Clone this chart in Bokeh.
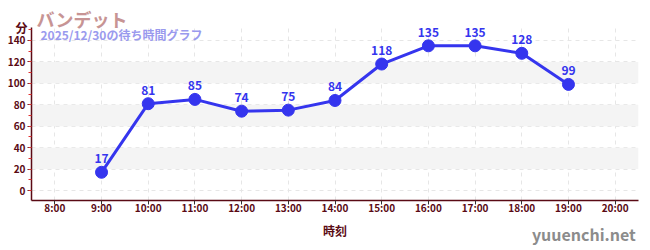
from bokeh.plotting import figure
from bokeh.models import (ColumnDataSource, Label, FixedTicker, Range1d, LabelSet, Grid,
                          Title, LinearAxis)
from bokeh.core.properties import value
from bokeh.embed import file_html
from bokeh.resources import INLINE

hours = [9, 10, 11, 12, 13, 14, 15, 16, 17, 18, 19]
waits = [17, 81, 85, 74, 75, 84, 118, 135, 135, 128, 99]
x_ticks = list(range(8, 21))
x_tick_labels = {h: f"{h}:00" for h in x_ticks}
y_ticks = list(range(0, 141, 20))
y_minor_ticks = list(range(-10, 151, 10))
band_ticks = list(range(20, 121, 20))
title = "バンデット"
subtitle = "2025/12/30の待ち時間グラフ"
unit_label = "分"
x_label = "時刻"
watermark = "yuuenchi.net"

FONT = "'Noto Sans CJK JP'"
AXIS_COLOR = "#5a0a14"
LINE_COLOR = "#3535ee"
WM_X = 19.33  # horizontal anchor of the watermark text (styling)

src = ColumnDataSource(dict(x=hours, y=waits, t=[str(v) for v in waits]))

p = figure(width=650, height=250, output_backend="svg", toolbar_location=None,
           x_range=Range1d(7.5, 20.5), y_range=Range1d(-9.33, 152.1),
           min_border_left=31, min_border_right=12, min_border_top=27, min_border_bottom=50)
p.outline_line_color = None
p.background_fill_color = "white"

p.title.text = title
p.title.align = "left"
p.title.offset = 5
p.title.standoff = -9.6
p.title.vertical_align = "middle"
p.title.text_font = FONT
p.title.text_font_size = "18px"
p.title.text_font_style = "bold"
p.title.text_color = "#c79494"

p.add_layout(Title(text=unit_label, align="left", offset=-16, standoff=-39, vertical_align="middle",
                   text_font=FONT, text_font_size="12px", text_font_style="bold",
                   text_color=AXIS_COLOR), "above")

xax = p.xaxis[0]
yax = p.yaxis[0]
xax.ticker = FixedTicker(ticks=x_ticks, minor_ticks=[])
xax.major_label_overrides = x_tick_labels
yax.ticker = FixedTicker(ticks=y_ticks, minor_ticks=y_minor_ticks)

for ax in (xax, yax):
    ax.axis_line_color = AXIS_COLOR
    ax.axis_line_width = 1.5
    ax.major_tick_line_color = "#333333"
    ax.major_tick_out = 4
    ax.major_tick_in = 0
    ax.major_label_text_color = AXIS_COLOR
    ax.major_label_text_font = FONT
    ax.major_label_text_font_style = "bold"
    ax.major_label_text_font_size = "10px"
xax.major_label_standoff = -5
yax.major_label_standoff = 2
yax.minor_tick_line_color = "#e03030"
yax.minor_tick_out = 3
yax.minor_tick_in = 0
xax.minor_tick_line_color = None

xax.axis_label = x_label
xax.axis_label_text_font = FONT
xax.axis_label_text_font_style = "bold"
xax.axis_label_text_font_size = "12px"
xax.axis_label_text_color = AXIS_COLOR
xax.axis_label_standoff = 4

wm_axis = LinearAxis(ticker=FixedTicker(ticks=[WM_X], minor_ticks=[]),
                     major_label_overrides={WM_X: watermark},
                     axis_line_color=None, major_tick_line_color=None,
                     minor_tick_line_color=None, major_tick_out=0, major_tick_in=0,
                     major_label_standoff=-20, major_label_text_font=FONT,
                     major_label_text_font_size="16px", major_label_text_font_style="bold",
                     major_label_text_color="#8c8c8c")
p.add_layout(wm_axis, "below")

p.xgrid.grid_line_color = "#e6e6e6"
p.xgrid.grid_line_dash = "4 4"
p.ygrid.grid_line_color = "#e6e6e6"
p.ygrid.grid_line_dash = "4 4"

band_grid = Grid(dimension=1, ticker=FixedTicker(ticks=band_ticks), grid_line_color=None,
                 band_fill_color="#f4f4f4", band_fill_alpha=1.0, level="underlay")
p.add_layout(band_grid)

p.line("x", "y", source=src, line_color=LINE_COLOR, line_width=3)
p.scatter("x", "y", source=src, size=12, fill_color=LINE_COLOR, line_color=LINE_COLOR)
p.add_layout(LabelSet(x="x", y="y", text="t", source=src, y_offset=9, text_align="center",
                      text_baseline="alphabetic",
                      text_font=value(FONT), text_font_style="bold", text_font_size="12px",
                      text_color=LINE_COLOR))

p.add_layout(Label(x=9, y=166.5, x_units="screen", y_units="screen", text=subtitle,
                   text_font=FONT, text_font_style="bold", text_font_size="12px",
                   text_color="#9a9aee", text_baseline="alphabetic"))

open("out.html", "w").write(file_html(p, INLINE))
